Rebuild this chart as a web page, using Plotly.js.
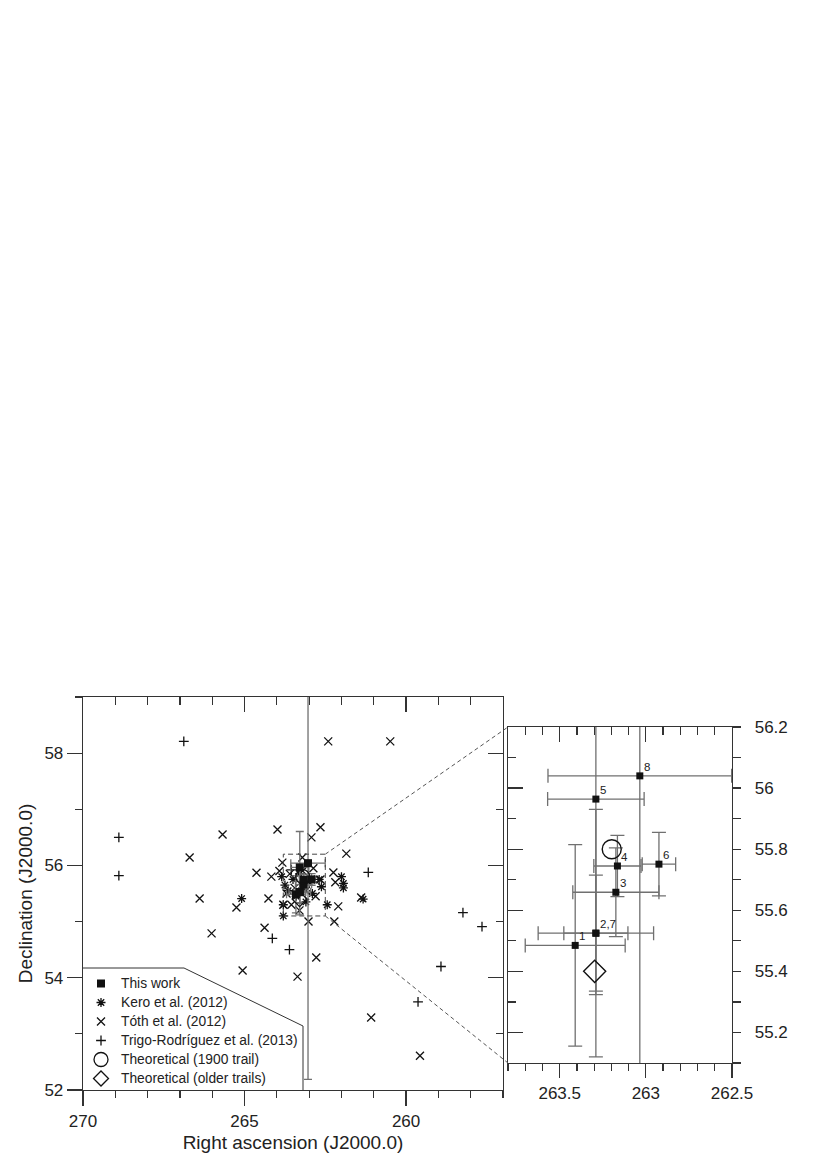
<!DOCTYPE html>
<html><head><meta charset="utf-8">
<script src="https://cdn.plot.ly/plotly-3.0.1.min.js"></script>
<style>html,body{margin:0;padding:0;background:#fff}#chart{width:830px;height:1175px}</style>
</head><body><div id="chart"></div>
<script>
// ---- This work (points 1..8; 2 and 7 coincide) ----
const workRA     = [263.41, 263.29, 263.174, 263.165, 263.29, 262.924, 263.29, 263.035];
const workDec    = [55.485, 55.525, 55.659, 55.745, 55.964, 55.751, 55.525, 56.04];
const workErrRA  = [0.29, 0.335, 0.25, 0.137, 0.28, 0.097, 0.186, 0.533];
const workErrDec = [0.33, 0.405, 0.145, 0.10, 0.64, 0.104, 0.19, 3.85];
const workLabels = ['1', '2,7', '3', '4', '5', '6', '', '8'];

// ---- Theoretical ----
const trail1900RA = [263.198], trail1900Dec = [55.80];
const olderRA = [263.297], olderDec = [55.40];

// ---- Kero et al. (2012) ----
const keroRA  = [265.09, 263.80, 263.80, 262.44, 262.00, 261.94, 261.94, 262.62, 261.33, 263.85, 263.75, 263.20, 263.00, 263.40, 262.90, 263.50, 262.69, 263.65, 263.30, 263.10];
const keroDec = [55.41, 55.10, 55.30, 55.30, 55.80, 55.60, 55.68, 55.62, 55.40, 55.80, 55.65, 55.60, 55.70, 55.45, 55.50, 55.75, 55.75, 55.55, 55.85, 55.35];

// ---- Tóth et al. (2012) ----
const tothRA  = [262.41, 260.49, 265.68, 266.70, 263.98, 262.65, 262.93, 264.63, 264.17, 266.39, 265.25, 264.26, 266.02, 264.38, 265.06, 263.36, 262.78, 263.02, 261.85, 262.25, 262.19, 261.39, 262.10, 262.22, 261.08, 259.57, 263.83, 263.92, 262.87, 263.21, 263.80, 262.65, 263.60, 263.45, 263.10, 262.95, 263.70, 263.30, 262.80, 263.55, 263.20];
const tothDec = [58.21, 58.21, 56.55, 56.14, 56.64, 56.68, 56.50, 55.87, 55.80, 55.41, 55.25, 55.41, 54.79, 54.89, 54.13, 54.02, 54.36, 55.00, 56.21, 55.875, 55.70, 55.43, 55.27, 55.00, 53.29, 52.61, 56.05, 55.90, 55.95, 56.14, 55.30, 55.75, 55.85, 55.60, 55.55, 55.75, 55.50, 55.20, 55.45, 55.30, 55.90];

// ---- Trigo-Rodríguez et al. (2013) ----
const trigoRA  = [266.88, 268.89, 268.89, 264.14, 263.61, 261.17, 258.24, 257.65, 258.92, 259.63, 263.55];
const trigoDec = [58.21, 56.50, 55.82, 54.70, 54.50, 55.875, 55.16, 54.91, 54.20, 53.57, 55.92];

// ---- axes ----
const leftRA = [270, 257], leftDec = [52, 59];
const zoomRA = [263.8, 262.5], zoomDec = [55.1, 56.2];

const W = 830, H = 1175;
const px = v => v / W, py = v => 1 - v / H;
const xdomL = [px(83), px(503)], ydomL = [py(1090), py(697)];
const xdomR = [px(508), px(732)], ydomR = [py(1063), py(727)];

const FONT = 'Liberation Sans, Arial, Helvetica, sans-serif';
const AX = '#333';
const ERR = '#707070';

function baseAxis(extra) {
  return Object.assign({
    showgrid: false, zeroline: false, showline: true, linecolor: AX, linewidth: 1.3,
    tickcolor: AX, tickwidth: 1.2, tickfont: {size: 17, color: '#222', family: FONT},
    fixedrange: true
  }, extra);
}
const minorT = (dt, dir, len) => ({dtick: dt, ticks: dir, ticklen: len, tickcolor: AX, tickwidth: 1.2});

const errX = (w) => ({type: 'data', array: workErrRA, visible: true, color: ERR, thickness: 1.3, width: w});
const errY = (w) => ({type: 'data', array: workErrDec, visible: true, color: ERR, thickness: 1.3, width: w});

const mk = (sym, size) => ({symbol: sym, size: size, color: '#111', line: {color: '#111', width: 1.3}});
const lg = s => '<span style="font-size:13.8px">' + s + '</span>';

const traces = [
  {x: tothRA, y: tothDec, mode: 'markers', name: lg('Tóth et al. (2012)'), legendrank: 3,
   marker: mk('x-thin-open', 8), xaxis: 'x', yaxis: 'y'},
  {x: keroRA, y: keroDec, mode: 'markers', name: lg('Kero et al. (2012)'), legendrank: 2,
   marker: mk('asterisk-open', 7.5), xaxis: 'x', yaxis: 'y'},
  {x: trigoRA, y: trigoDec, mode: 'markers', name: lg('Trigo-Rodríguez et al. (2013)'), legendrank: 4,
   marker: mk('cross-thin-open', 7), xaxis: 'x', yaxis: 'y'},
  {x: workRA, y: workDec, mode: 'markers', name: lg('This work'), legendrank: 1,
   marker: {symbol: 'square', size: 8, color: '#111'}, error_x: errX(4), error_y: errY(4), xaxis: 'x', yaxis: 'y'},
  {x: trail1900RA, y: trail1900Dec, mode: 'markers', name: lg('Theoretical (1900 trail)'), legendrank: 5,
   marker: {symbol: 'circle-open', size: 14, color: '#111', line: {color: '#111', width: 1.3}}, xaxis: 'x', yaxis: 'y'},
  {x: olderRA, y: olderDec, mode: 'markers', name: lg('Theoretical (older trails)'), legendrank: 6,
   marker: {symbol: 'diamond-open', size: 11.5, color: '#111', line: {color: '#111', width: 1.3}}, xaxis: 'x', yaxis: 'y'},
  // right panel
  {x: workRA, y: workDec, mode: 'markers', showlegend: false,
   marker: {symbol: 'square', size: 7, color: '#111'}, error_x: errX(7), error_y: errY(7), xaxis: 'x2', yaxis: 'y2'},
  {x: trail1900RA, y: trail1900Dec, mode: 'markers', showlegend: false,
   marker: {symbol: 'circle-open', size: 19, color: '#111', line: {color: '#111', width: 1.4}}, xaxis: 'x2', yaxis: 'y2'},
  {x: olderRA, y: olderDec, mode: 'markers', showlegend: false,
   marker: {symbol: 'diamond-open', size: 17, color: '#111', line: {color: '#111', width: 1.4}}, xaxis: 'x2', yaxis: 'y2'},
  // empty traces that create the mirrored frame subplots
  {x: [], y: [], mode: 'markers', showlegend: false, hoverinfo: 'skip', xaxis: 'x3', yaxis: 'y3'},
  {x: [], y: [], mode: 'markers', showlegend: false, hoverinfo: 'skip', xaxis: 'x4', yaxis: 'y4'}
];

const annotations = workRA.map((ra, i) => ({
  x: ra, y: workDec[i], xref: 'x2', yref: 'y2', text: workLabels[i], showarrow: false,
  xanchor: 'left', yanchor: 'bottom', xshift: 2, yshift: 1,
  font: {size: 11.5, color: '#222', family: FONT}
})).filter(a => a.text !== '');

const lx = v => xdomL[0] + (leftRA[0] - v) / (leftRA[0] - leftRA[1]) * (xdomL[1] - xdomL[0]);
const ly = v => ydomL[0] + (v - leftDec[0]) / (leftDec[1] - leftDec[0]) * (ydomL[1] - ydomL[0]);

const shapes = [
  {type: 'rect', xref: 'x', yref: 'y', x0: zoomRA[0], x1: zoomRA[1], y0: zoomDec[0], y1: zoomDec[1],
   line: {color: '#444', width: 1, dash: '5px,3px'}},
  {type: 'line', xref: 'paper', yref: 'paper', x0: lx(zoomRA[1]), y0: ly(zoomDec[1]), x1: xdomR[0], y1: ydomR[1],
   line: {color: '#555', width: 1, dash: '4px,3px'}},
  {type: 'line', xref: 'paper', yref: 'paper', x0: lx(zoomRA[1]), y0: ly(zoomDec[0]), x1: xdomR[0], y1: ydomR[0],
   line: {color: '#555', width: 1, dash: '4px,3px'}},
  {type: 'path', xref: 'paper', yref: 'paper',
   path: `M ${px(83)} ${py(968)} L ${px(184)} ${py(968)} L ${px(303)} ${py(1026)} L ${px(303)} ${py(1090)}`,
   line: {color: '#333', width: 1}}
];

const layout = {
  width: W, height: H, margin: {l: 0, r: 0, t: 0, b: 0},
  paper_bgcolor: '#fff', plot_bgcolor: 'rgba(0,0,0,0)',
  font: {family: FONT, color: '#222'},
  showlegend: true,
  legend: {x: px(81), y: py(969), xanchor: 'left', yanchor: 'top', bgcolor: 'rgba(0,0,0,0)',
           borderwidth: 0, font: {size: 12, family: FONT, color: '#222'}, traceorder: 'normal'},
  xaxis: baseAxis({domain: xdomL, range: leftRA, anchor: 'y', side: 'bottom', ticks: 'outside', ticklen: 15,
    tick0: 0, dtick: 5, minor: minorT(1, 'outside', 7),
    title: {text: 'Right ascension (J2000.0)', font: {size: 19, family: FONT, color: '#222'}, standoff: 6}}),
  yaxis: baseAxis({domain: ydomL, range: leftDec, anchor: 'x', side: 'left', ticks: 'outside', ticklen: 15,
    tick0: 0, dtick: 2, minor: minorT(1, 'outside', 7),
    title: {text: 'Declination (J2000.0)', font: {size: 19, family: FONT, color: '#222'}, standoff: 6}}),
  xaxis3: baseAxis({domain: xdomL, range: leftRA, anchor: 'y3', overlaying: 'x', side: 'top', ticks: 'inside',
    ticklen: 15, tick0: 0, dtick: 5, showticklabels: false, minor: minorT(1, 'inside', 8)}),
  yaxis3: baseAxis({domain: ydomL, range: leftDec, anchor: 'x3', overlaying: 'y', side: 'right', ticks: 'inside',
    ticklen: 15, tick0: 0, dtick: 2, showticklabels: false, minor: minorT(1, 'inside', 7)}),
  xaxis2: baseAxis({domain: xdomR, range: zoomRA, anchor: 'y2', side: 'bottom', ticks: 'outside', ticklen: 14,
    tick0: 0, dtick: 0.5, minor: minorT(0.1, 'outside', 7)}),
  yaxis2: baseAxis({domain: ydomR, range: zoomDec, anchor: 'x2', side: 'right', ticks: 'outside', ticklen: 8,
    tick0: 0, dtick: 0.2, ticklabelstandoff: 10, minor: minorT(0.1, 'outside', 8)}),
  xaxis4: baseAxis({domain: xdomR, range: zoomRA, anchor: 'y4', overlaying: 'x2', side: 'top', ticks: 'inside',
    ticklen: 15, tick0: 0, dtick: 0.5, showticklabels: false, minor: minorT(0.1, 'inside', 8)}),
  yaxis4: baseAxis({domain: ydomR, range: zoomDec, anchor: 'x4', overlaying: 'y2', side: 'left', ticks: 'inside',
    ticklen: 15, tick0: 0, dtick: 0.2, showticklabels: false, minor: minorT(0.1, 'inside', 8)}),
  annotations: annotations,
  shapes: shapes
};

Plotly.newPlot('chart', traces, layout, {displayModeBar: false, staticPlot: true});
</script>
</body></html>
